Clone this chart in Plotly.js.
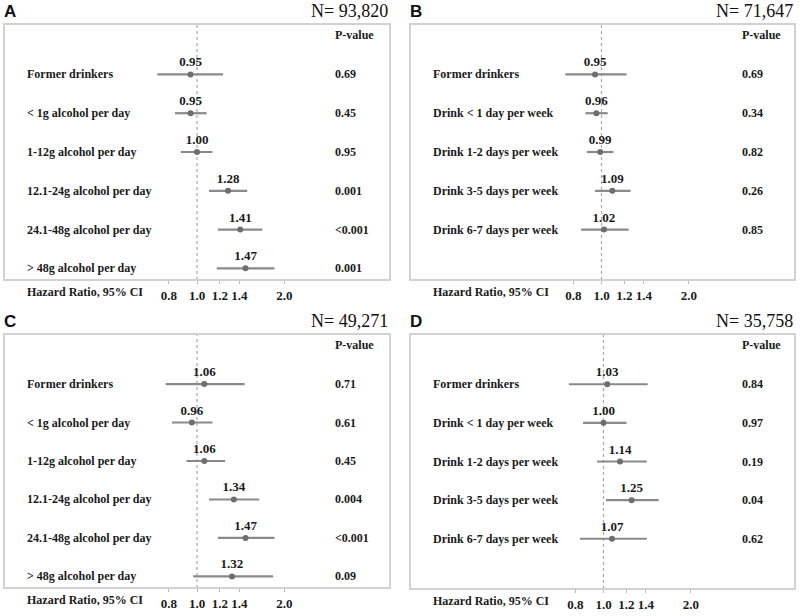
<!DOCTYPE html>
<html>
<head>
<meta charset="utf-8">
<script src="https://cdn.plot.ly/plotly-3.0.1.min.js"></script>
<style>
  html, body { margin: 0; padding: 0; background: #fff; }
  #chart { width: 800px; height: 616px; }
</style>
</head>
<body>
<div id="chart"></div>
<script>
// row labels
const labelsAmount = ['Former drinkers', '< 1g alcohol per day', '1-12g alcohol per day',
    '12.1-24g alcohol per day', '24.1-48g alcohol per day', '> 48g alcohol per day']
const labelsFreq = ['Former drinkers', 'Drink < 1 day per week', 'Drink 1-2 days per week',
    'Drink 3-5 days per week', 'Drink 6-7 days per week']

// panel A
const hrA = [0.95, 0.95, 1.00, 1.28, 1.41, 1.47]
const loA = [0.73, 0.84, 0.88, 1.10, 1.18, 1.17]
const hiA = [1.23, 1.08, 1.13, 1.49, 1.68, 1.85]
const pA = ['0.69', '0.45', '0.95', '0.001', '<0.001', '0.001']
// panel B
const hrB = [0.95, 0.96, 0.99, 1.09, 1.02]
const loB = [0.75, 0.88, 0.89, 0.95, 0.85]
const hiB = [1.22, 1.05, 1.10, 1.26, 1.24]
const pB = ['0.69', '0.34', '0.82', '0.26', '0.85']
// panel C
const hrC = [1.06, 0.96, 1.06, 1.34, 1.47, 1.32]
const loC = [0.78, 0.82, 0.92, 1.10, 1.18, 0.97]
const hiC = [1.46, 1.13, 1.25, 1.64, 1.85, 1.83]
const pC = ['0.71', '0.61', '0.45', '0.004', '<0.001', '0.09']
// panel D
const hrD = [1.03, 1.00, 1.14, 1.25, 1.07]
const loD = [0.76, 0.85, 0.95, 1.02, 0.83]
const hiD = [1.42, 1.20, 1.41, 1.55, 1.41]
const pD = ['0.84', '0.97', '0.19', '0.04', '0.62']

const letters = ['A', 'B', 'C', 'D']
const nTotals = ['N= 93,820', 'N= 71,647', 'N= 49,271', 'N= 35,758']
const tickVals = [0.8, 1.0, 1.2, 1.4, 2.0]
const tickText = ['0.8', '1.0', '1.2', '1.4', '2.0']

const W = 800, H = 616
const px = x => x / W
const py = y => 1 - y / H
const serif = 'Liberation Serif'
const ink = '#1a1a1a'
const boldSerif = {family: serif, size: 12, weight: 'bold', color: ink}

// pixel geometry of each panel box
const panels = [
    {hr: hrA, lo: loA, hi: hiA, p: pA, labels: labelsAmount, left: 4, right: 390, top: 24, bottom: 280, one: 197, labX: 25, pX: 333},
    {hr: hrB, lo: loB, hi: hiB, p: pB, labels: labelsFreq, left: 410, right: 795, top: 24, bottom: 280, one: 601.5, labX: 431, pX: 740},
    {hr: hrC, lo: loC, hi: hiC, p: pC, labels: labelsAmount, left: 4, right: 390, top: 334, bottom: 588, one: 197, labX: 25, pX: 333},
    {hr: hrD, lo: loD, hi: hiD, p: pD, labels: labelsFreq, left: 410, right: 795, top: 334, bottom: 589, one: 603.5, labX: 431, pX: 740},
]
const perDecade = 290
const yRange = [5.3, -1.3]

let traces = []
let annotations = []
let shapes = []
let layout = {
    width: W, height: H,
    margin: {l: 0, r: 0, t: 0, b: 0},
    paper_bgcolor: '#fff', plot_bgcolor: 'rgba(0,0,0,0)',
    showlegend: false,
    font: {family: serif, color: ink},
}

panels.forEach((pn, k) => {
    const sfx = k === 0 ? '' : String(k + 1)
    const rows = pn.hr.map((_, i) => i)
    const lx0 = (pn.left - pn.one) / perDecade
    const lx1 = (pn.right - pn.one) / perDecade

    layout['xaxis' + sfx] = {
        type: 'log',
        domain: [px(pn.left), px(pn.right)],
        range: [lx0, lx1],
        anchor: 'y' + sfx,
        tickvals: tickVals, ticktext: tickText,
        ticks: 'outside', ticklen: 3, tickcolor: '#bbb', tickwidth: 1,
        showgrid: false, zeroline: false, showline: false,
        tickfont: {family: serif, size: 13, weight: 'bold', color: ink},
        fixedrange: true,
    }
    layout['yaxis' + sfx] = {
        domain: [py(pn.bottom), py(pn.top)],
        range: yRange,
        anchor: 'x' + sfx,
        visible: false,
        fixedrange: true,
    }

    // reference line at HR = 1
    traces.push({
        x: [1, 1], y: yRange,
        xaxis: 'x' + sfx, yaxis: 'y' + sfx,
        type: 'scatter', mode: 'lines',
        line: {color: '#a8a8a8', width: 1.2, dash: 'dot'},
        hoverinfo: 'skip',
    })
    // estimates with CI
    traces.push({
        x: pn.hr, y: rows,
        xaxis: 'x' + sfx, yaxis: 'y' + sfx,
        type: 'scatter', mode: 'markers+text',
        marker: {color: '#6e6e6e', size: 6},
        error_x: {
            type: 'data', symmetric: false,
            array: pn.hi.map((h, i) => h - pn.hr[i]),
            arrayminus: pn.lo.map((l, i) => pn.hr[i] - l),
            color: '#8a8a8a', thickness: 2.2, width: 0,
        },
        text: pn.hr.map(v => v.toFixed(2)),
        textposition: 'top center',
        textfont: {family: serif, size: 13, weight: 'bold', color: ink},
    })

    // box
    shapes.push({
        type: 'rect', xref: 'paper', yref: 'paper',
        x0: px(pn.left), x1: px(pn.right), y0: py(pn.bottom), y1: py(pn.top),
        line: {color: '#d2d2d2', width: 2},
    })

    // row labels and p-values
    pn.labels.forEach((lab, i) => {
        annotations.push({
            text: lab, xref: 'paper', yref: 'y' + sfx, x: px(pn.labX), y: i,
            xanchor: 'left', yanchor: 'middle', showarrow: false,
            font: boldSerif,
        })
        annotations.push({
            text: pn.p[i], xref: 'paper', yref: 'y' + sfx, x: px(pn.pX), y: i,
            xanchor: 'left', yanchor: 'middle', showarrow: false,
            font: boldSerif,
        })
    })
    annotations.push({
        text: 'P-value', xref: 'paper', yref: 'paper', x: px(pn.pX), y: py(pn.top + 11),
        xanchor: 'left', yanchor: 'middle', showarrow: false,
        font: boldSerif,
    })
    annotations.push({
        text: 'Hazard Ratio, 95% CI', xref: 'paper', yref: 'paper', x: px(pn.labX), y: py(pn.bottom + 12),
        xanchor: 'left', yanchor: 'middle', showarrow: false,
        font: boldSerif,
    })
    // panel letter and sample size
    annotations.push({
        text: letters[k], xref: 'paper', yref: 'paper', x: px(pn.left - 2), y: py(pn.top - 13),
        xanchor: 'left', yanchor: 'middle', showarrow: false,
        font: {family: 'Liberation Sans', size: 17, weight: 'bold', color: '#111'},
    })
    annotations.push({
        text: nTotals[k], xref: 'paper', yref: 'paper', x: px(pn.right), y: py(pn.top - 13),
        xanchor: 'right', yanchor: 'middle', showarrow: false,
        font: {family: serif, size: 18, color: '#111'},
    })
})

layout.annotations = annotations
layout.shapes = shapes

Plotly.newPlot('chart', traces, layout, {displayModeBar: false, staticPlot: true})
</script>
</body>
</html>
